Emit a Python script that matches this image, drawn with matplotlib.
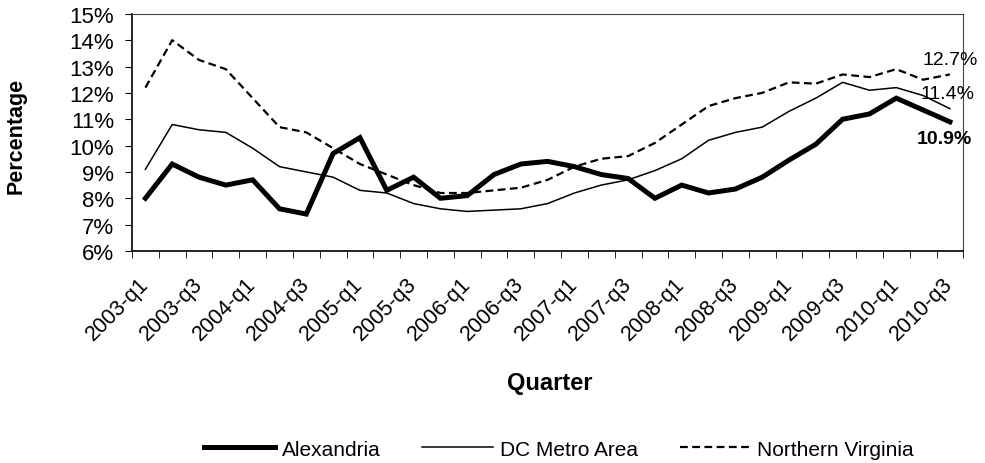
import matplotlib
matplotlib.use('Agg')
import matplotlib.pyplot as plt
import matplotlib.transforms as mtransforms
from matplotlib.ticker import FixedLocator, PercentFormatter

plt.rcParams['font.family'] = ['Liberation Sans', 'DejaVu Sans']

quarters = ['%d-q%d' % (y, q) for y in range(2003, 2011) for q in range(1, 5)][:31]

alexandria = [8.0, 9.3, 8.8, 8.5, 8.7, 7.6, 7.4, 9.7, 10.3, 8.3, 8.8, 8.0, 8.1, 8.9, 9.3, 9.4,
              9.2, 8.9, 8.75, 8.0, 8.5, 8.2, 8.35, 8.8, 9.45, 10.05, 11.0, 11.2, 11.8, 11.35, 10.9]
dc_metro = [9.1, 10.8, 10.6, 10.5, 9.9, 9.2, 9.0, 8.8, 8.3, 8.2, 7.8, 7.6, 7.5, 7.55, 7.6, 7.8,
            8.2, 8.5, 8.7, 9.05, 9.5, 10.2, 10.5, 10.7, 11.3, 11.8, 12.4, 12.1, 12.2, 11.9, 11.4]
n_virginia = [12.2, 14.0, 13.25, 12.9, 11.8, 10.7, 10.5, 9.9, 9.3, 8.9, 8.5, 8.2, 8.2, 8.3, 8.4, 8.7,
              9.2, 9.5, 9.6, 10.1, 10.8, 11.5, 11.8, 12.0, 12.4, 12.35, 12.7, 12.6, 12.9, 12.5, 12.7]

x = list(range(len(quarters)))

fig = plt.figure(figsize=(9.85, 4.64), dpi=100)
ax = fig.add_axes([0.134, 0.457, 0.844, 0.511])

ax.plot(x, alexandria, color='black', lw=3.6, label='Alexandria', solid_joinstyle='miter')
ax.plot(x, dc_metro, color='black', lw=1.1, label='DC Metro Area')
ax.plot(x, n_virginia, color='black', lw=1.6, ls=(0, (3.5, 2)), label='Northern Virginia')

ax.set_xlim(-0.5, len(quarters) - 0.5)
ax.set_ylim(6, 15)
ax.set_yticks(range(6, 16))
ax.yaxis.set_major_formatter(PercentFormatter(decimals=0))
ax.tick_params(axis='y', labelsize=16, length=5, direction='out', pad=8)

ax.set_xticks(x[::2])
ax.set_xticklabels(quarters[::2], rotation=45, ha='right', va='center',
                   rotation_mode='anchor', fontsize=15.5)
shift = mtransforms.ScaledTranslation(6 / 100, 0, fig.dpi_scale_trans)
for lbl in ax.get_xticklabels():
    lbl.set_transform(lbl.get_transform() + shift)
ax.xaxis.set_minor_locator(FixedLocator([i - 0.5 for i in range(len(quarters) + 1)]))
ax.tick_params(axis='x', which='major', length=0, pad=21)
ax.tick_params(axis='x', which='minor', length=5, direction='out')

for side in ['top', 'right']:
    ax.spines[side].set_linewidth(0.8)
    ax.spines[side].set_color('#444444')
for side in ['left', 'bottom']:
    ax.spines[side].set_linewidth(1.2)

ax.set_ylabel('Percentage', fontsize=15.5, fontweight='bold')
ax.yaxis.set_label_coords(-0.127, 0.49)
ax.set_xlabel('Quarter', fontsize=17, fontweight='bold')
ax.xaxis.set_label_coords(0.502, -0.506)

ax.annotate('%.1f%%' % n_virginia[-1], (x[-1], n_virginia[-1]), xytext=(0, 11),
            textcoords='offset points', ha='center', va='center', fontsize=14, clip_on=False)
ax.annotate('%.1f%%' % dc_metro[-1], (x[-1], dc_metro[-1]), xytext=(-2, 11),
            textcoords='offset points', ha='center', va='center', fontsize=14, clip_on=False)
ax.annotate('%.1f%%' % alexandria[-1], (x[-1], alexandria[-1]), xytext=(-4, -12),
            textcoords='offset points', ha='center', va='center', fontsize=14,
            fontweight='bold', clip_on=False)

fig.legend(loc='center', bbox_to_anchor=(0.5675, 0.030), ncol=3, frameon=False,
           fontsize=15, handlelength=3.4, handletextpad=0.33, columnspacing=2.0)

plt.savefig('out.png', dpi=100)
